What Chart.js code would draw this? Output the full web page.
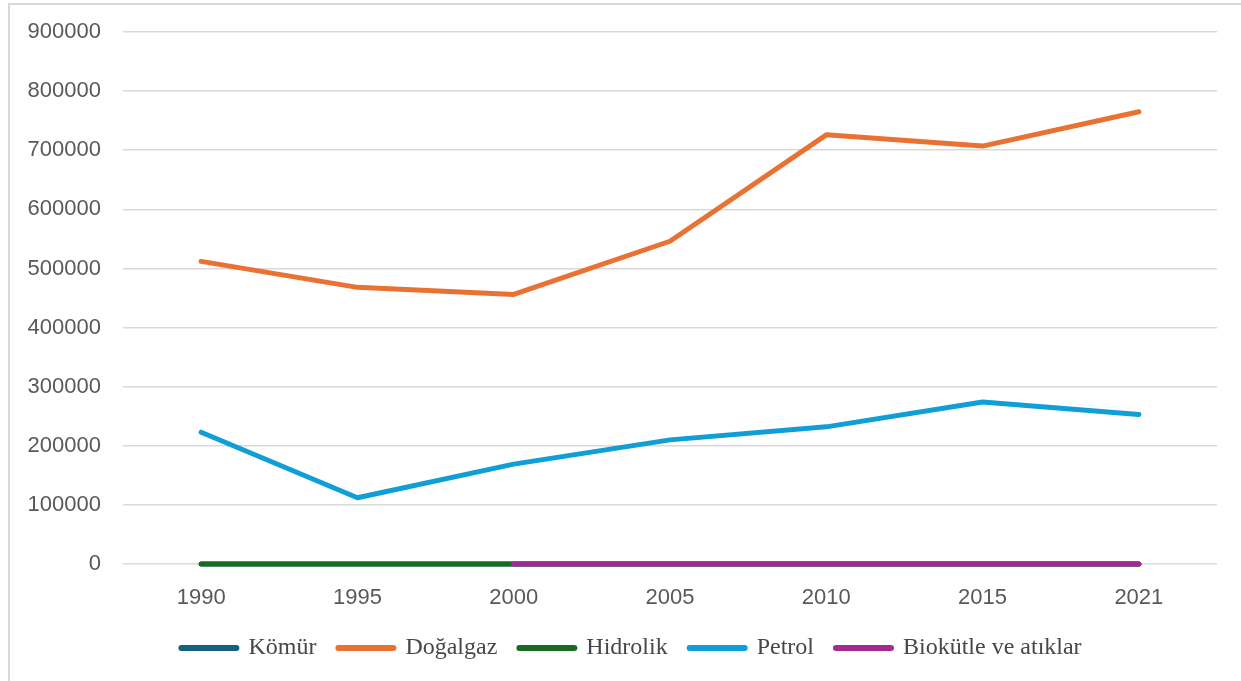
<!DOCTYPE html>
<html lang="tr">
<head>
<meta charset="UTF-8">
<title>Enerji kaynakları</title>
<script src="https://cdn.jsdelivr.net/npm/chart.js"></script>
<style>
  html, body { margin: 0; padding: 0; background: #ffffff; }
  #wrap {
    position: absolute; left: 8px; top: 3px;
    width: 1233px; height: 678px;
    border-left: 2px solid #d9d9d9; border-top: 2px solid #d9d9d9;
    box-sizing: border-box;
  }
</style>
</head>
<body>
<div id="wrap"><canvas id="chart" width="1231" height="676"></canvas></div>
<script>
const years = ['1990', '1995', '2000', '2005', '2010', '2015', '2021'];
const komur = [0, 0, 0, 0, 0, 0, 0];
const dogalgaz = [512000, 468000, 456000, 546000, 726000, 707000, 765000];
const hidrolik = [0, 0, 0, 0, 0, 0, 0];
const petrol = [223000, 112000, 169000, 210000, 232000, 274000, 253000];
const biokutle = [null, null, 0, 0, 0, 0, 0];
const yTicks = [0, 100000, 200000, 300000, 400000, 500000, 600000, 700000, 800000, 900000];

// later series sit on top, like in Excel
function line(label, data, color, order) {
    return {
        label: label,
        data: data,
        order: order,
        clip: false,
        borderColor: color,
        backgroundColor: color,
        borderWidth: 5,
        borderCapStyle: 'round',
        borderJoinStyle: 'round',
        pointRadius: 0,
        pointHoverRadius: 0,
        pointStyle: 'line',
        tension: 0,
        spanGaps: false
    };
}

// nudge the legend a bit right, it sits off-centre in the original
const legendShift = {
    id: 'legendShift',
    afterLayout: chart => {
        chart.legend.left += 18;
        chart.legend.right += 18;
    }
};

const ctx = document.getElementById('chart').getContext('2d');
new Chart(ctx, {
    type: 'line',
    data: {
        labels: years,
        datasets: [
            line('Kömür', komur, '#156082', 5),
            line('Doğalgaz', dogalgaz, '#E97132', 4),
            line('Hidrolik', hidrolik, '#196B24', 3),
            line('Petrol', petrol, '#0F9ED5', 2),
            line('Biokütle ve atıklar', biokutle, '#A02B93', 1)
        ]
    },
    plugins: [legendShift],
    options: {
        responsive: false,
        animation: false,
        layout: { padding: { top: 27, right: 24, left: 0, bottom: 11 } },
        scales: {
            x: {
                offset: true,
                afterFit: s => { s.height = 50; },
                grid: { display: false, drawTicks: false },
                border: { display: false },
                ticks: {
                    color: '#595959',
                    padding: 21,
                    font: { family: 'Liberation Sans, Arial, sans-serif', size: 22 }
                }
            },
            y: {
                min: 0,
                max: 900000,
                afterFit: s => { s.width = 113; s.paddingTop = 0; s.paddingBottom = 0; },
                afterBuildTicks: s => { s.ticks = yTicks.map(v => ({ value: v })); },
                grid: { color: '#d9d9d9', lineWidth: 1.5, drawTicks: false },
                border: { display: false },
                ticks: {
                    color: '#595959',
                    padding: 22,
                    callback: v => String(v),
                    font: { family: 'Liberation Sans, Arial, sans-serif', size: 22 }
                }
            }
        },
        plugins: {
            legend: {
                position: 'bottom',
                labels: {
                    usePointStyle: true,
                    pointStyleWidth: 55,
                    boxHeight: 6,
                    padding: 22,
                    color: '#474747',
                    font: { family: 'Liberation Serif, Times New Roman, serif', size: 24 },
                    sort: (a, b) => a.datasetIndex - b.datasetIndex,
                    generateLabels: chart => {
                        const items = Chart.defaults.plugins.legend.labels.generateLabels(chart);
                        items.forEach(it => { it.lineWidth = 6; it.lineCap = 'round'; });
                        return items;
                    }
                }
            },
            tooltip: { enabled: false }
        }
    }
});
</script>
</body>
</html>
